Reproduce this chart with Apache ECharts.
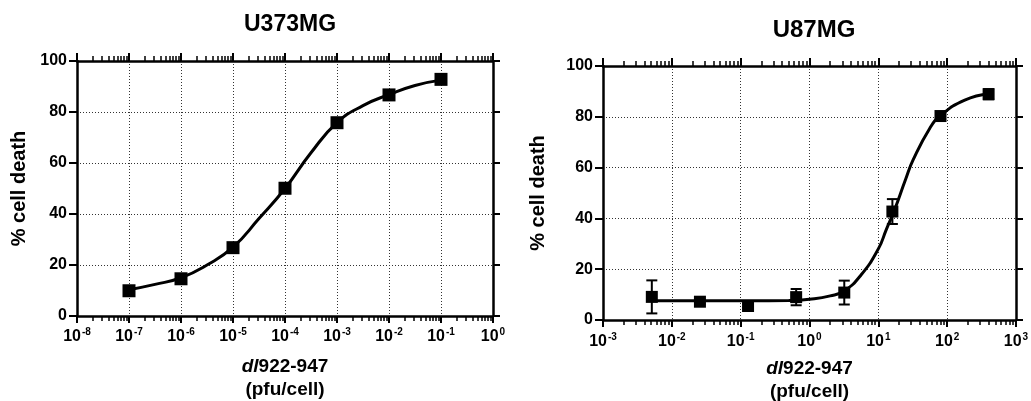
<!DOCTYPE html>
<html><head><meta charset="utf-8">
<script src="https://cdn.jsdelivr.net/npm/echarts@6/dist/echarts.min.js"></script>
<style>html,body{margin:0;padding:0;background:#fff}#c{width:1031px;height:401px}</style>
</head><body><div id="c"></div>
<script>
// ---------- data ----------
const titles = ['U373MG', 'U87MG'];
const yAxisName = '% cell death';
const xAxisName = ['dl', '922-947', '(pfu/cell)'];
const yRange = [0, 100];
const yStep = 20;
const leftXRange = [1e-8, 1];      // decades 10^-8 .. 10^0
const rightXRange = [1e-3, 1e3];   // decades 10^-3 .. 10^3

// U373MG measured points
const leftX = [1e-7, 1e-6, 1e-5, 1e-4, 1e-3, 1e-2, 1e-1];
const leftY = [9.9, 14.6, 26.8, 50.1, 75.8, 86.7, 92.8];
// U373MG fitted curve
const leftCurveX = [1e-7, 3.16e-7, 1e-6, 3.16e-6, 1e-5, 3.16e-5, 1e-4, 3.16e-4, 1e-3, 3.16e-3, 1e-2, 3.16e-2, 1e-1];
const leftCurveY = [10.3, 12.4, 15.0, 20.0, 27.0, 38.2, 50.0, 64.0, 75.8, 82.5, 86.8, 90.4, 92.5];

// U87MG measured points (mean, error)
const rightX = [0.00512, 0.0256, 0.128, 0.64, 3.2, 16, 80, 400];
const rightY = [9.1, 7.2, 5.5, 9.0, 10.8, 42.7, 80.3, 88.9];
const rightErr = [6.5, 0.8, 0.8, 3.2, 4.7, 4.9, 1.0, 2.0];
// U87MG fitted curve
const rightCurveX = [0.00512, 0.03, 0.13, 0.5, 1, 2, 3.2, 5.6, 10, 13, 17, 25, 32, 56, 80, 180, 400];
const rightCurveY = [7.6, 7.6, 7.6, 7.7, 8.2, 9.5, 11.5, 17.7, 28.0, 35.5, 43.0, 55.5, 63.0, 75.5, 80.5, 86.6, 89.0];

// ---------- helpers ----------
const FONT = '"Liberation Sans", Arial, sans-serif';
const BLACK = '#000';
const AXW = 2.5;

function minorLogPositions(range) {
  const e0 = Math.round(Math.log10(range[0])), e1 = Math.round(Math.log10(range[1]));
  const out = [];
  for (let e = e0; e < e1; e++) for (let k = 2; k <= 9; k++) out.push(e + Math.log10(k));
  return out;
}
const zip = (a, b) => a.map((v, i) => [v, b[i]]);

const tickLabelRich = {
  b: { fontSize: 16, fontWeight: 'bold', fontFamily: FONT, color: BLACK, lineHeight: 18 },
  s: { fontSize: 10, fontWeight: 'bold', fontFamily: FONT, color: BLACK, verticalAlign: 'top', lineHeight: 10, padding: [0, 0, 0, 1] }
};
const nameRich = {
  i: { fontSize: 19, fontWeight: 'bold', fontStyle: 'italic', fontFamily: FONT, color: BLACK, lineHeight: 23 },
  n: { fontSize: 19, fontWeight: 'bold', fontFamily: FONT, color: BLACK, lineHeight: 23 }
};
const gridLine = { show: true, lineStyle: { color: '#333', type: [1, 2], width: 1 } };

function xAxesFor(gridIndex, range, labelMargin, nameGap) {
  const lo = Math.log10(range[0]), hi = Math.log10(range[1]);
  const minors = minorLogPositions(range);
  return [
    { // main bottom log axis
      type: 'log', logBase: 10, gridIndex, position: 'bottom', min: range[0], max: range[1], interval: 1,
      axisLine: { show: true, onZero: false, lineStyle: { color: BLACK, width: AXW } },
      axisTick: { show: true, inside: false, length: 7, lineStyle: { color: BLACK, width: 2 } },
      axisLabel: {
        show: true, margin: labelMargin,
        formatter: v => '{b|10}{s|' + Math.round(Math.log10(v)) + '}',
        rich: tickLabelRich
      },
      splitLine: gridLine,
      name: '{i|' + xAxisName[0] + '}{n|' + xAxisName[1] + '}\n{n|' + xAxisName[2] + '}',
      nameLocation: 'middle', nameGap, nameTextStyle: { rich: nameRich }
    },
    { // top mirror log axis
      type: 'log', logBase: 10, gridIndex, position: 'top', min: range[0], max: range[1], interval: 1,
      axisLine: { show: true, onZero: false, lineStyle: { color: BLACK, width: AXW } },
      axisTick: { show: true, inside: false, length: 8, lineStyle: { color: BLACK, width: 2 } },
      axisLabel: { show: false }, splitLine: { show: false }
    },
    { // bottom minor ticks
      type: 'value', gridIndex, position: 'bottom', min: lo, max: hi,
      axisLine: { show: false, onZero: false },
      axisTick: { show: true, inside: false, length: 5, customValues: minors, lineStyle: { color: BLACK, width: 1.5 } },
      axisLabel: { show: false }, splitLine: { show: false }
    },
    { // top minor ticks
      type: 'value', gridIndex, position: 'top', min: lo, max: hi,
      axisLine: { show: false, onZero: false },
      axisTick: { show: true, inside: false, length: 5, customValues: minors, lineStyle: { color: BLACK, width: 1.5 } },
      axisLabel: { show: false }, splitLine: { show: false }
    }
  ];
}

function yAxesFor(gridIndex, nameGap) {
  return [
    {
      type: 'value', gridIndex, position: 'left', min: yRange[0], max: yRange[1], interval: yStep,
      axisLine: { show: true, onZero: false, lineStyle: { color: BLACK, width: AXW } },
      axisTick: { show: true, inside: false, length: 8, lineStyle: { color: BLACK, width: 2 } },
      axisLabel: { show: true, margin: 10, fontSize: 16, fontWeight: 'bold', fontFamily: FONT, color: BLACK },
      splitLine: gridLine,
      name: yAxisName, nameLocation: 'middle', nameGap,
      nameTextStyle: { fontSize: 20, fontWeight: 'bold', fontFamily: FONT, color: BLACK }
    },
    {
      type: 'value', gridIndex, position: 'right', min: yRange[0], max: yRange[1], interval: yStep,
      axisLine: { show: true, onZero: false, lineStyle: { color: BLACK, width: AXW } },
      axisTick: { show: true, inside: false, length: 7, lineStyle: { color: BLACK, width: 2 } },
      axisLabel: { show: false }, splitLine: { show: false }
    }
  ];
}

const option = {
  animation: false,
  backgroundColor: '#fff',
  title: [
    { text: titles[0], left: 285, top: 8, textAlign: 'center',
      textStyle: { fontSize: 23, fontWeight: 'bold', fontFamily: FONT, color: BLACK } },
    { text: titles[1], left: 809, top: 13, textAlign: 'center',
      textStyle: { fontSize: 24, fontWeight: 'bold', fontFamily: FONT, color: BLACK } }
  ],
  grid: [
    { left: 77, right: 538, top: 61, bottom: 85, containLabel: false, outerBoundsMode: 'none' },
    { left: 603, right: 15, top: 66, bottom: 81, containLabel: false, outerBoundsMode: 'none' }
  ],
  xAxis: [...xAxesFor(0, leftXRange, 11.5, 39), ...xAxesFor(1, rightXRange, 12.5, 37)],
  yAxis: [...yAxesFor(0, 48), ...yAxesFor(1, 55)],
  series: [
    { type: 'line', xAxisIndex: 0, yAxisIndex: 0, data: zip(leftCurveX, leftCurveY),
      smooth: 0.5, showSymbol: false, symbol: 'none',
      lineStyle: { color: BLACK, width: 3 }, z: 3 },
    { type: 'scatter', xAxisIndex: 0, yAxisIndex: 0, data: zip(leftX, leftY),
      symbol: 'rect', symbolSize: 13, itemStyle: { color: BLACK, opacity: 1 }, z: 5 },
    { type: 'line', xAxisIndex: 4, yAxisIndex: 2, data: zip(rightCurveX, rightCurveY),
      smooth: 0.5, showSymbol: false, symbol: 'none',
      lineStyle: { color: BLACK, width: 3 }, z: 3 },
    { type: 'custom', xAxisIndex: 4, yAxisIndex: 2,
      data: rightX.map((x, i) => [x, rightY[i] - rightErr[i], rightY[i] + rightErr[i]]),
      renderItem: (params, api) => {
        const x = api.value(0);
        const lo = api.coord([x, api.value(1)]);
        const hi = api.coord([x, api.value(2)]);
        const hw = 5.5;
        const st = { stroke: BLACK, lineWidth: 2 };
        return { type: 'group', children: [
          { type: 'line', shape: { x1: lo[0], y1: lo[1], x2: hi[0], y2: hi[1] }, style: st },
          { type: 'line', shape: { x1: lo[0] - hw, y1: lo[1], x2: lo[0] + hw, y2: lo[1] }, style: st },
          { type: 'line', shape: { x1: hi[0] - hw, y1: hi[1], x2: hi[0] + hw, y2: hi[1] }, style: st }
        ] };
      }, z: 4 },
    { type: 'scatter', xAxisIndex: 4, yAxisIndex: 2, data: zip(rightX, rightY),
      symbol: 'rect', symbolSize: 12, itemStyle: { color: BLACK, opacity: 1 }, z: 5 }
  ]
};
const chart = echarts.init(document.getElementById('c'), null, { renderer: 'canvas' });
chart.setOption(option);
</script>
</body></html>
